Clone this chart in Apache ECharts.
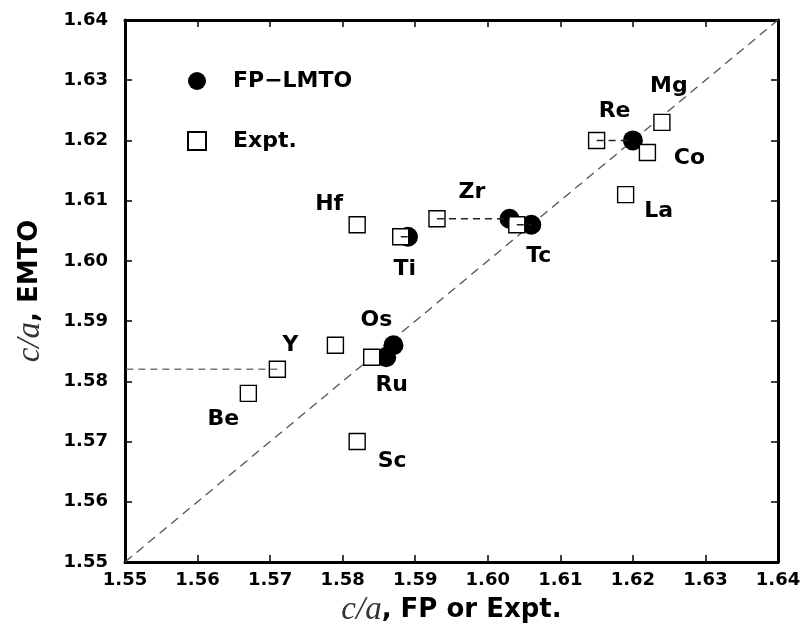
<!DOCTYPE html>
<html>
<head>
<meta charset="utf-8">
<script src="https://cdn.jsdelivr.net/npm/echarts@6/dist/echarts.min.js"></script>
<style>
  html, body { margin: 0; padding: 0; background: #fff; }
  #chart { width: 805px; height: 629px; }
</style>
</head>
<body>
<div id="chart"></div>
<script>
// hcp metals: experimental c/a (x) against EMTO c/a (y)
const elements = ['Mg', 'Re', 'Co', 'La', 'Hf', 'Zr', 'Ti', 'Tc', 'Os', 'Ru', 'Y', 'Be', 'Sc'];
const exptCa   = [1.624, 1.615, 1.622, 1.619, 1.582, 1.593, 1.588, 1.604, 1.579, 1.584, 1.571, 1.567, 1.582];
const emtoCa   = [1.623, 1.620, 1.618, 1.611, 1.606, 1.607, 1.604, 1.606, 1.586, 1.584, 1.582, 1.578, 1.570];

// full-potential LMTO c/a (x) against EMTO c/a (y)
const fpElements = ['Re', 'Zr', 'Tc', 'Ti', 'Os', 'Ru'];
const fpCa       = [1.620, 1.603, 1.606, 1.589, 1.587, 1.586];
const fpEmto     = [1.620, 1.607, 1.606, 1.604, 1.586, 1.584];

// elements whose experiment point is tied to its FP-LMTO point (Y's FP value lies off the axis)
const linked = ['Y', 'Ti', 'Zr', 'Tc', 'Re'];

const axisMin = 1.55, axisMax = 1.64, axisStep = 0.01;

// label placement relative to each element's marker (pixels)
const labelShift = {
  Mg: [7, -36], Re: [18, -29], Co: [42, 6], La: [33, 17], Hf: [-28, -20],
  Zr: [35, -26], Ti: [4, 32], Tc: [22, 32], Os: [41, -25], Ru: [20, 28],
  Y: [13, -24], Be: [-25, 26], Sc: [35, 20]
};

const SANS = 'DejaVu Sans';
const SERIF = 'Liberation Serif';

const exptData = elements.map((el, i) => ({
  name: el,
  value: [exptCa[i], emtoCa[i]],
  label: { offset: labelShift[el] }
}));
const fpData = fpElements.map((el, i) => ({ name: el, value: [fpCa[i], fpEmto[i]] }));

const linkSeries = linked.map(el => {
  const i = elements.indexOf(el);
  const j = fpElements.indexOf(el);
  const xEnd = j >= 0 ? fpCa[j] : axisMin;
  return {
    type: 'line',
    silent: true,
    symbol: 'none',
    z: 5,
    lineStyle: { color: el === 'Y' ? '#777' : '#222', width: 1.4, type: [7, 5] },
    data: [[exptCa[i], emtoCa[i]], [xEnd, emtoCa[i]]]
  };
});

const tickFmt = v => v.toFixed(2);

const titleRich = {
  i: { fontFamily: SERIF, fontStyle: 'italic', fontSize: 33, color: '#333' },
  b: { fontFamily: SANS, fontWeight: 'bold', fontSize: 26, color: '#000' }
};

const baseAxis = {
  type: 'value',
  min: axisMin,
  max: axisMax,
  interval: axisStep,
  axisLine: { show: true, onZero: false, lineStyle: { color: '#000', width: 3 } },
  axisTick: { show: true, inside: true, length: 7, lineStyle: { color: '#000', width: 1.5 } },
  splitLine: { show: false }
};

const chart = echarts.init(document.getElementById('chart'), null, { renderer: 'canvas' });

chart.setOption({
  animation: false,
  backgroundColor: '#fff',
  grid: { left: 125, right: 27, top: 20, bottom: 67, containLabel: false, outerBoundsMode: 'none' },
  legend: {
    orient: 'vertical',
    left: 182,
    top: 65,
    itemWidth: 18,
    itemHeight: 18,
    itemGap: 38,
    selectedMode: false,
    textStyle: { fontFamily: SANS, fontWeight: 'bold', fontSize: 22, color: '#000', padding: [0, 0, 0, 22] },
    data: ['FP\u2212LMTO', 'Expt.']
  },
  xAxis: [
    Object.assign({}, baseAxis, {
      position: 'bottom',
      axisLabel: { formatter: tickFmt, margin: 9, fontFamily: SANS, fontWeight: 'bold', fontSize: 18, color: '#000' },
      name: '{i|c/a}{b|, FP or Expt.}',
      nameLocation: 'middle',
      nameGap: 24,
      nameTextStyle: { rich: titleRich }
    }),
    Object.assign({}, baseAxis, { position: 'top', axisLabel: { show: false } })
  ],
  yAxis: [
    Object.assign({}, baseAxis, {
      position: 'left',
      axisLabel: { formatter: tickFmt, margin: 17, fontFamily: SANS, fontWeight: 'bold', fontSize: 18, color: '#000' },
      name: '{i|c/a}{b|, EMTO}',
      nameLocation: 'middle',
      nameRotate: 90,
      nameGap: 78,
      nameTextStyle: { rich: titleRich }
    }),
    Object.assign({}, baseAxis, { position: 'right', axisLabel: { show: false } })
  ],
  series: [
    {
      // y = x reference line
      type: 'line',
      silent: true,
      symbol: 'none',
      z: 1,
      lineStyle: { color: '#555', width: 1.3, type: [9, 6] },
      data: [[axisMin, axisMin], [axisMax, axisMax]]
    },
    {
      name: 'FP\u2212LMTO',
      type: 'scatter',
      symbol: 'circle',
      symbolSize: 20,
      z: 2,
      itemStyle: { color: '#000', borderWidth: 0, opacity: 1 },
      data: fpData
    },
    {
      name: 'Expt.',
      type: 'scatter',
      symbol: 'rect',
      symbolSize: 16,
      z: 3,
      itemStyle: { color: '#fff', borderColor: '#000', borderWidth: 1.4, opacity: 1 },
      label: {
        show: true,
        position: 'inside',
        formatter: p => p.name,
        fontFamily: SANS,
        fontWeight: 'bold',
        fontSize: 22,
        color: '#000',
        opacity: 1
      },
      data: exptData
    }
  ].concat(linkSeries)
});
</script>
</body>
</html>
